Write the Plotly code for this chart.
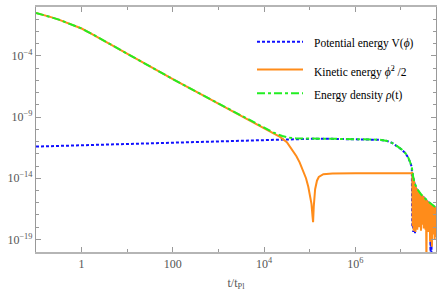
import plotly.graph_objects as go

# ---- data (log10 values) ----
rho_logt = [-1.0, -0.85, -0.69, -0.5, -0.33, -0.15, 0.0, 0.2, 0.4, 0.77, 1.13, 1.5, 2.0, 2.5, 3.0,
            3.5, 4.0, 4.2, 4.4, 4.55, 4.7, 4.85, 5.0, 5.5, 6.0, 6.3, 6.54, 6.7, 6.8, 6.91, 7.02,
            7.1, 7.16, 7.2, 7.24, 7.27, 7.3, 7.38, 7.45, 7.57, 7.65, 7.75, 7.8]
rho_logy = [-0.49, -0.62, -0.81, -1.03, -1.28, -1.52, -1.76, -2.15, -2.57, -3.38, -4.14, -4.87, -5.9,
            -6.9, -7.9, -8.9, -9.9, -10.25, -10.55, -10.68, -10.73, -10.75, -10.76, -10.77, -10.78,
            -10.8, -10.85, -10.95, -11.1, -11.36, -11.65, -11.95, -12.3, -12.65, -13.1, -13.9, -14.4,
            -15.0, -15.35, -15.8, -16.05, -16.36, -16.5]

V_logt = [-1.0, 0.0, 1.0, 2.0, 3.0, 4.0, 4.5, 5.0, 5.5, 6.0, 6.3, 6.54, 6.7, 6.8, 6.91, 7.02, 7.1,
          7.16, 7.2, 7.24]
V_logy = [-11.41, -11.3, -11.2, -11.1, -11.0, -10.9, -10.84, -10.78, -10.78, -10.79, -10.81, -10.86,
          -10.96, -11.1, -11.37, -11.66, -11.96, -12.31, -12.66, -13.1]

K_logt = [-1.0, -0.85, -0.69, -0.5, -0.33, -0.15, 0.0, 0.2, 0.4, 0.77, 1.13, 1.5, 2.0, 2.5, 3.0, 3.5,
          4.0, 4.2, 4.35, 4.5, 4.57, 4.65, 4.71, 4.78, 4.86, 4.92, 4.97, 5.01, 5.04, 5.06, 5.075,
          5.09, 5.12, 5.16, 5.2, 5.3, 5.5, 6.0, 6.5, 7.0, 7.2, 7.24]
K_logy = [-0.49, -0.62, -0.81, -1.03, -1.28, -1.52, -1.76, -2.15, -2.57, -3.38, -4.14, -4.87, -5.9,
          -6.9, -7.9, -8.9, -9.9, -10.3, -10.62, -11.05, -11.4, -11.8, -12.2, -12.7, -13.38, -14.0,
          -14.7, -15.4, -16.1, -17.0, -17.6, -16.3, -14.9, -14.2, -13.9, -13.67, -13.62, -13.6,
          -13.6, -13.6, -13.6, -13.6]

# late-time oscillation samples
osc_logt = [7.25, 7.26, 7.27, 7.28, 7.29, 7.30, 7.31, 7.32, 7.33, 7.34, 7.35, 7.36, 7.37, 7.38,
            7.39, 7.40, 7.41, 7.42, 7.43, 7.44, 7.45, 7.46, 7.47, 7.48, 7.49, 7.50, 7.51, 7.52,
            7.53, 7.54, 7.55, 7.56, 7.57, 7.58, 7.59, 7.60, 7.61, 7.62, 7.63, 7.64, 7.65, 7.66,
            7.67, 7.68, 7.69, 7.70, 7.71, 7.72, 7.73, 7.74, 7.75, 7.76, 7.77, 7.78, 7.79, 7.80]
K_osc_logy = [-13.5, -17.9, -13.9, -18.3, -14.2, -18.0, -14.5, -18.4, -14.7, -17.7, -14.85, -18.2,
              -14.95, -17.6, -15.05, -18.0, -15.15, -17.7, -15.25, -18.3, -15.35, -17.8, -15.4,
              -17.6, -15.5, -18.1, -15.55, -17.7, -15.65, -18.2, -15.7, -21.0, -15.8, -17.9, -15.9,
              -18.4, -15.95, -18.0, -16.0, -19.2, -16.05, -18.3, -16.1, -19.6, -16.15, -18.1, -16.2,
              -18.6, -16.3, -19.0, -16.35, -18.2, -16.4, -18.8, -16.45, -18.5]
V_osc_logy = [-18.0, -13.6, -18.4, -14.0, -18.2, -14.3, -18.5, -14.6, -17.9, -14.8, -17.4, -14.9,
              -17.3, -15.0, -17.3, -15.1, -17.3, -15.2, -17.3, -15.3, -17.3, -15.4, -17.3, -15.45,
              -17.3, -15.5, -17.3, -15.6, -17.3, -15.65, -17.3, -15.75, -17.3, -15.85, -17.3,
              -15.9, -17.3, -15.95, -17.4, -16.0, -21.0, -16.05, -20.5, -16.1, -17.4, -16.2, -17.4,
              -16.25, -17.4, -16.3, -17.4, -16.35, -17.4, -16.4, -17.4, -16.45]

x_ticks = [1, 100, 1e4, 1e6]
x_ticktext = ["1", "100", "10<sup>4</sup>", "10<sup>6</sup>"]
x_minor = [10, 1e3, 1e5, 1e7]
y_ticks = [1e-4, 1e-9, 1e-14, 1e-19]
y_ticktext = ["10<sup>\u22124</sup>", "10<sup>\u22129</sup>", "10<sup>\u221214</sup>", "10<sup>\u221219</sup>"]
y_minor_exp = list(range(-20, 1))

legend_labels = ["Potential energy V(<i>\u03d5</i>)",
                 "Kinetic energy <i>\u03d5\u0307</i><sup>2</sup> /2",
                 "Energy density <i>\u03c1</i>(t)"]

BLUE = "#1010ff"
ORANGE = "#ff8c1a"
GREEN = "#22ee22"
BLUE_DASH = "3px,2px"
GREEN_DASH = "8px,3px,3px,3px"


def p10(v):
    return [10 ** a for a in v]


fig = go.Figure()
fig.add_trace(go.Scatter(x=p10(V_logt + osc_logt), y=p10(V_logy + V_osc_logy), mode="lines",
                         line=dict(color=BLUE, width=2, dash=BLUE_DASH), showlegend=False))
fig.add_trace(go.Scatter(x=p10(K_logt + osc_logt), y=p10(K_logy + K_osc_logy), mode="lines",
                         line=dict(color=ORANGE, width=2), showlegend=False))
fig.add_trace(go.Scatter(x=p10(rho_logt), y=p10(rho_logy), mode="lines",
                         line=dict(color=GREEN, width=2, dash=GREEN_DASH), showlegend=False))

# manual legend (paper coords)
W, H = 442, 298
L, R, T, B = 36, 6, 5, 46
pw, ph = W - L - R, H - T - B


def px(x):
    return (x - L) / pw


def py(y):
    return 1 - (y - T) / ph


rows = [(40, 42, BLUE, BLUE_DASH), (68, 70, ORANGE, "solid"), (92, 94, GREEN, GREEN_DASH)]
for (ly, ty, col, dsh), lab in zip(rows, legend_labels):
    fig.add_shape(type="line", xref="paper", yref="paper", x0=px(257), x1=px(303), y0=py(ly), y1=py(ly),
                  line=dict(color=col, width=2, dash=dsh))
    fig.add_annotation(xref="paper", yref="paper", x=px(312), y=py(ty), text=lab, showarrow=False,
                       xanchor="left", yanchor="middle",
                       font=dict(family="Liberation Serif", size=11.5, color="black"))

axfont = dict(family="Liberation Serif", size=12, color="#555555")
fig.update_layout(
    width=W, height=H, margin=dict(l=L, r=R, t=T, b=B),
    paper_bgcolor="white", plot_bgcolor="white",
    xaxis=dict(type="log", range=[-1.0, 7.77], tickmode="array", tickvals=x_ticks, ticktext=x_ticktext,
               ticks="inside", ticklen=5, tickcolor="#999", showline=True, linecolor="#b5b5b5", linewidth=1.5,
               mirror="allticks", showgrid=False, zeroline=False, tickfont=axfont,
               minor=dict(tickvals=x_minor, ticks="inside", ticklen=3, tickcolor="#999"),
               title=dict(text="t/t<sub>Pl</sub>", font=dict(family="Liberation Serif", size=12, color="#555"),
                          standoff=8)),
    yaxis=dict(type="log", range=[-20.03, 0.0], tickmode="array", tickvals=y_ticks, ticktext=y_ticktext,
               ticks="inside", ticklen=5, tickcolor="#999", showline=True, linecolor="#999999", linewidth=1.2,
               mirror="allticks", showgrid=False, zeroline=False, tickfont=axfont,
               minor=dict(tickvals=[10 ** e for e in y_minor_exp], ticks="inside", ticklen=3, tickcolor="#999")),
)

fig.write_html("out.html", config={"displayModeBar": False},
               post_script="document.body.style.margin='0';document.body.style.overflow='hidden';")
